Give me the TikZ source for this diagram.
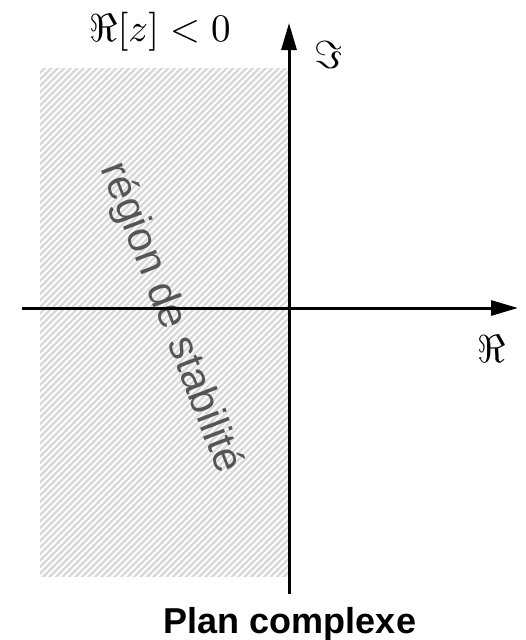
\documentclass[tikz,border=0pt]{standalone}
\usepackage{fontspec}
\setsansfont{Liberation Sans}
\usetikzlibrary{arrows.meta}
\definecolor{hatch}{HTML}{D8D8D8}
\definecolor{txtgray}{HTML}{555555}
\tikzset{
  axis/.style={line width=3pt, -{Triangle[length=27pt,width=15pt]}},
  mathlbl/.style={inner sep=0pt, scale=3.9, transform shape},
  regionlbl/.style={inner sep=0pt, text=txtgray, font=\sffamily\fontsize{42}{44}\selectfont},
  titlelbl/.style={inner sep=0pt, font=\sffamily\bfseries\fontsize{36}{38}\selectfont},
  hatchline/.style={hatch, line width=2.3pt},
}
\begin{document}
\begin{tikzpicture}[x=1pt,y=-1pt]
\useasboundingbox (0,0) rectangle (525,640);
% hatched region
\begin{scope}
  \clip (40,68) rectangle (289,576);
  \fill[white] (40,68) rectangle (289,576);
  \foreach \k in {-160,-153.5,...,900} {
    \draw[hatchline] (\k-600,600) -- (\k,0);
  }
\end{scope}
\node[regionlbl, rotate=-69] (reg) at (170,318) {région de stabilité};
% axes
\coordinate (xs) at (22,308);
\coordinate (xe) at (518,308);
\coordinate (ys) at (289,594);
\coordinate (ye) at (289,23);
\draw[axis] (xs) -- (xe);
\draw[axis] (ys) -- (ye);
% labels
\node[mathlbl] (lt) at (160,32) {$\Re[z] < 0$};
\node[mathlbl] (im) at (329,55) {$\Im$};
\node[mathlbl] (re) at (492,349) {$\Re$};
\node[titlelbl, anchor=base] (title) at (290,633) {Plan complexe};
\end{tikzpicture}
\end{document}
